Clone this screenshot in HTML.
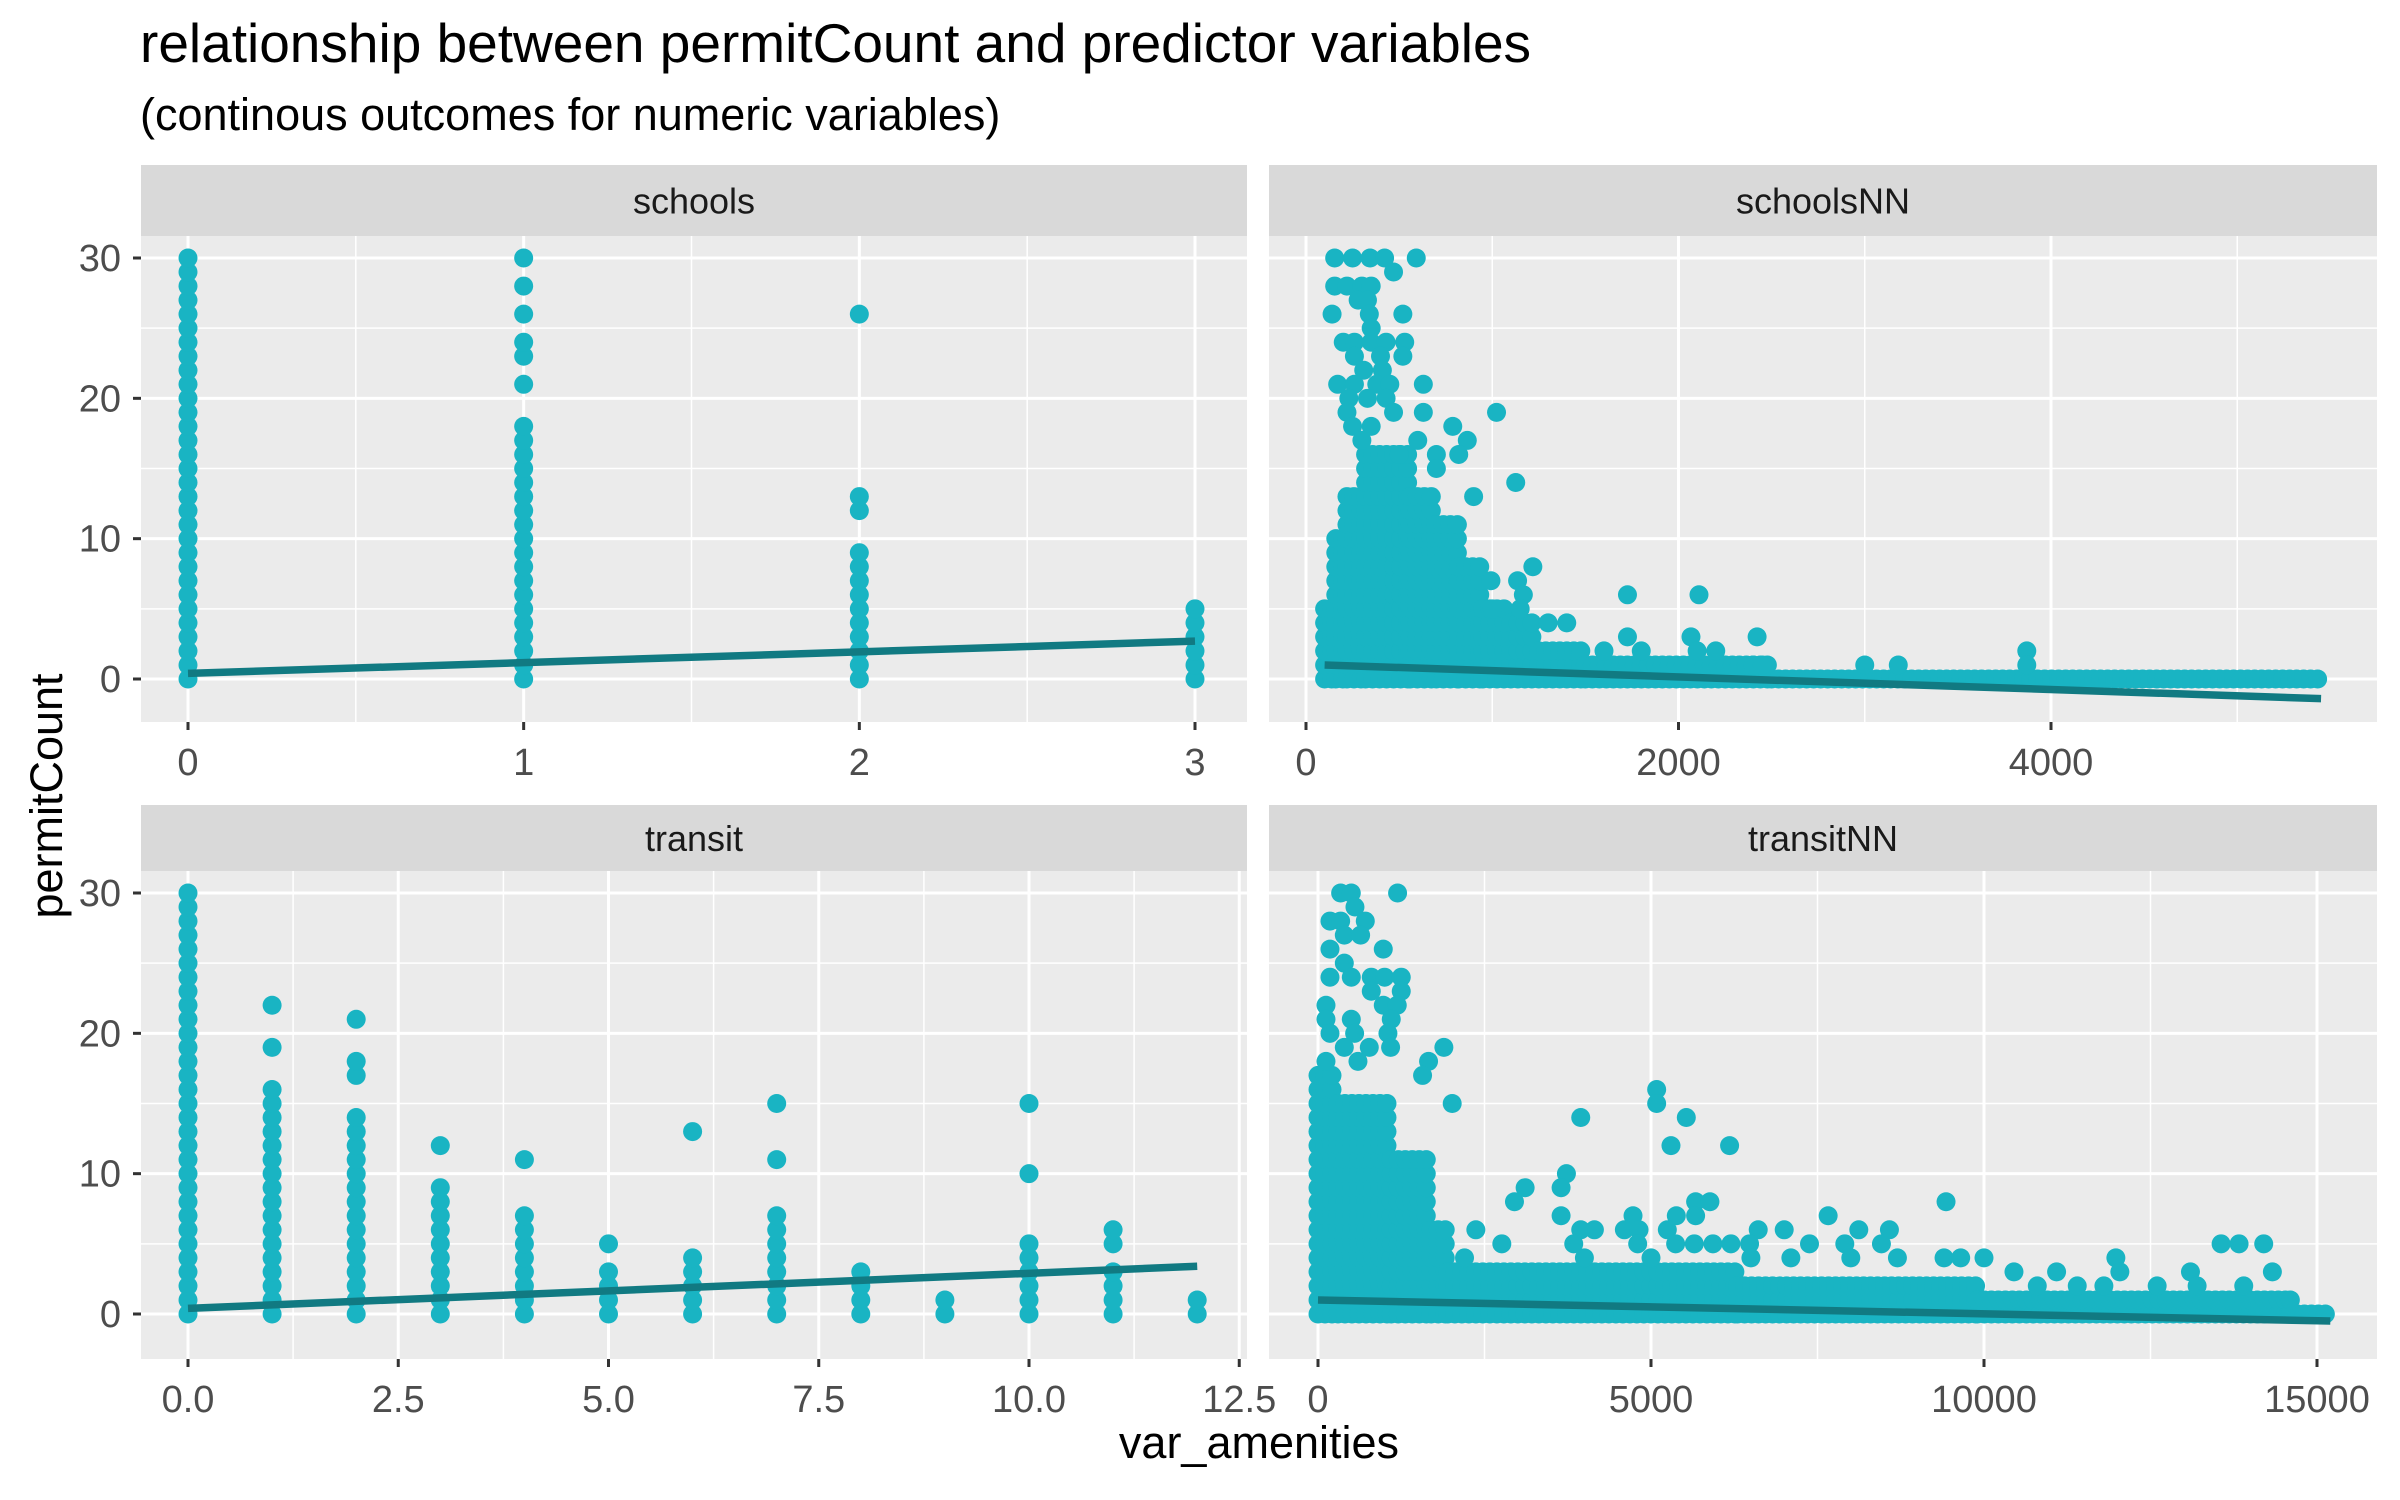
<!DOCTYPE html>
<html><head><meta charset="utf-8">
<style>
html,body{margin:0;padding:0;background:#fff;}
svg{display:block;font-family:"Liberation Sans",Arial,sans-serif;}
</style></head>
<body>
<svg id="chart" width="2400" height="1500" viewBox="0 0 2400 1500" xmlns="http://www.w3.org/2000/svg">
<rect width="2400" height="1500" fill="#fff"/>
<text x="140" y="62" font-size="55" fill="#000">relationship between permitCount and predictor variables</text>
<text x="140" y="130" font-size="45" fill="#000">(continous outcomes for numeric variables)</text>
<text x="1259" y="1458" font-size="45" text-anchor="middle" fill="#000">var_amenities</text>
<text transform="translate(62,796) rotate(-90)" font-size="45" text-anchor="middle" fill="#000">permitCount</text>
<g id="panels"></g>
</svg>
<script>
// ---- data ----
const yTicks = [0, 10, 20, 30];
const schoolsX = [0, 1, 2, 3];
const schoolsMaxStack = [30, 18, 9, 5];
const schoolsExtra = [[1,21],[1,23],[1,24],[1,26],[1,28],[1,30],[2,12],[2,13],[2,26]];
const schoolsTrend = [[0,0.4],[3,2.7]];
const transitX = [0,1,2,3,4,5,6,7,8,9,10,11,12];
const transitMaxStack = [30,16,14,9,7,3,4,7,3,1,5,3,1];
const transitExtra = [[1,19],[1,22],[2,17],[2,18],[2,21],[3,12],[4,11],[5,5],[6,13],[7,11],[7,15],[10,10],[10,15],[11,5],[11,6]];
const transitTrend = [[0,0.4],[12,3.4]];
const schoolsNNBands = [[100,160,5],[160,220,10],[220,320,13],[320,560,16],[560,700,13],[700,820,11],[820,950,8],[950,1100,5],[1100,1250,4],[1250,1500,2],[1500,2500,1],[2500,5450,0]];
const schoolsNNExtra = [[154,30],[250,30],[344,30],[422,30],[592,30],[470,29],[154,28],[220,28],[300,28],[350,28],[280,27],[330,27],[140,26],[340,26],[520,26],[350,25],[200,24],[260,24],[350,24],[430,24],[530,24],[260,23],[400,23],[520,23],[310,22],[410,22],[170,21],[260,21],[380,21],[450,21],[630,21],[230,20],[330,20],[430,20],[220,19],[470,19],[630,19],[1023,19],[250,18],[350,18],[788,18],[866,17],[300,17],[600,17],[500,16],[700,16],[820,16],[1126,14],[700,15],[900,13],[1218,8],[993,7],[1136,7],[1167,6],[1726,6],[2110,6],[1000,5],[1150,5],[1300,4],[1400,4],[2422,3],[1726,3],[2067,3],[1600,2],[1800,2],[2100,2],[2200,2],[2400,1],[2450,1],[3000,1],[3180,1],[3870,2],[3870,1]];
const schoolsNNTrend = [[100,1.0],[5450,-1.4]];
const transitNNBands = [[0,300,17],[300,1100,15],[1100,1700,11],[1700,1950,6],[1950,6300,3],[6300,9900,2],[9900,14600,1],[14600,15150,0]];
const transitNNExtra = [[340,30],[500,30],[1195,30],[555,29],[180,28],[340,28],[710,28],[395,27],[640,27],[180,26],[980,26],[395,25],[180,24],[500,24],[800,24],[1000,24],[1250,24],[800,23],[1250,23],[120,22],[980,22],[1190,22],[120,21],[500,21],[1100,21],[180,20],[550,20],[1050,20],[395,19],[770,19],[1090,19],[1890,19],[120,18],[600,18],[1660,18],[1570,17],[5085,16],[5085,15],[2015,15],[3945,14],[5530,14],[5300,12],[6180,12],[3730,10],[3110,9],[3650,9],[2950,8],[5670,8],[5885,8],[9430,8],[3650,7],[4730,7],[5380,7],[5670,7],[7660,7],[2370,6],[3945,6],[4150,6],[4600,6],[4820,6],[5245,6],[6610,6],[7000,6],[8120,6],[8580,6],[2760,5],[3840,5],[4800,5],[5370,5],[5650,5],[5930,5],[6200,5],[6480,5],[7380,5],[7910,5],[8460,5],[13560,5],[13830,5],[14200,5],[2200,4],[4000,4],[5000,4],[6500,4],[7100,4],[8000,4],[8700,4],[9400,4],[9650,4],[10000,4],[11980,4],[10450,3],[11090,3],[12040,3],[13100,3],[14330,3],[10800,2],[11400,2],[11800,2],[12600,2],[13200,2],[13900,2],[14600,1]];
const transitNNTrend = [[0,1.0],[15200,-0.5]];

// ---- layout ----
const PT = '#19b4c3', LN = '#117a82', R = 9.5;
const panels = [
 {name:'schools', x0:141, x1:1247, sy0:165, py0:236, py1:722, xA:188, xB:1195, vA:0, vB:3,
  major:[0,1,2,3], minor:[0.5,1.5,2.5], labels:['0','1','2','3'], yT:258, yB:679},
 {name:'schoolsNN', x0:1269, x1:2377, sy0:165, py0:236, py1:722, xA:1306, xB:2051, vA:0, vB:4000,
  major:[0,2000,4000], minor:[1000,3000,5000], labels:['0','2000','4000'], yT:258, yB:679},
 {name:'transit', x0:141, x1:1247, sy0:805, py0:871, py1:1359, xA:188, xB:1029, vA:0, vB:10,
  major:[0,2.5,5,7.5,10,12.5], minor:[1.25,3.75,6.25,8.75,11.25], labels:['0.0','2.5','5.0','7.5','10.0','12.5'], yT:893, yB:1314},
 {name:'transitNN', x0:1269, x1:2377, sy0:805, py0:871, py1:1359, xA:1318, xB:2317, vA:0, vB:15000,
  major:[0,5000,10000,15000], minor:[2500,7500,12500], labels:['0','5000','10000','15000'], yT:893, yB:1314}
];
const NS='http://www.w3.org/2000/svg';
const root=document.getElementById('panels');
function mk(tag,attrs,parent){const e=document.createElementNS(NS,tag);for(const k in attrs)e.setAttribute(k,attrs[k]);(parent||root).appendChild(e);return e;}

panels.forEach((p,i)=>{
  const sx=v=>p.xA+(v-p.vA)*(p.xB-p.xA)/(p.vB-p.vA);
  const sy=v=>p.yB+(v)*(p.yT-p.yB)/30;
  const g=mk('g',{});
  
  
  const bg=mk('rect',{x:p.x0,y:p.py0,width:p.x1-p.x0,height:p.py1-p.py0,fill:'#ebebeb'},g);
  
  
  const strip=mk('rect',{x:p.x0,y:p.sy0,width:p.x1-p.x0,height:p.py0-p.sy0,fill:'#d9d9d9'},g);
  
  
  const st=mk('text',{x:(p.x0+p.x1)/2,y:(p.sy0+p.py0)/2+13,'font-size':36,'text-anchor':'middle',fill:'#1a1a1a'},g);
  st.textContent=p.name;
  
  
  [5,15,25].forEach(v=>{mk('line',{x1:p.x0,x2:p.x1,y1:sy(v),y2:sy(v),stroke:'#fff','stroke-width':1.5},g);});
  p.minor.forEach(v=>{const x=sx(v); if(x>p.x0&&x<p.x1) mk('line',{x1:x,x2:x,y1:p.py0,y2:p.py1,stroke:'#fff','stroke-width':1.5},g);});
  yTicks.forEach(v=>{mk('line',{x1:p.x0,x2:p.x1,y1:sy(v),y2:sy(v),stroke:'#fff','stroke-width':3},g);});
  p.major.forEach((v,k)=>{const x=sx(v);
    if(x>p.x0&&x<p.x1) mk('line',{x1:x,x2:x,y1:p.py0,y2:p.py1,stroke:'#fff','stroke-width':3},g);
    mk('line',{x1:x,x2:x,y1:p.py1,y2:p.py1+8,stroke:'#333','stroke-width':3},g);
    const t=mk('text',{x:x,y:p.py1+53,'font-size':38,'text-anchor':'middle',fill:'#4d4d4d'},g);
    t.textContent=p.labels[k];
    
    
  });
  if(p.x0<200){
    yTicks.forEach(v=>{
      mk('line',{x1:p.x0-8,x2:p.x0,y1:sy(v),y2:sy(v),stroke:'#333','stroke-width':3},g);
      const t=mk('text',{x:p.x0-20,y:sy(v)+13,'font-size':38,'text-anchor':'end',fill:'#4d4d4d'},g);
      t.textContent=String(v);
      
      
    });
  }
  const pg=mk('g',{fill:PT},g);
  
  
  const dot=(x,y)=>{const c=mk('circle',{cx:sx(x),cy:sy(y),r:R},pg);
    
    };
  let stackX,stackMax,extra,bands,trend;
  if(p.name==='schools'){stackX=schoolsX;stackMax=schoolsMaxStack;extra=schoolsExtra;trend=schoolsTrend;}
  if(p.name==='transit'){stackX=transitX;stackMax=transitMaxStack;extra=transitExtra;trend=transitTrend;}
  if(p.name==='schoolsNN'){bands=schoolsNNBands;extra=schoolsNNExtra;trend=schoolsNNTrend;}
  if(p.name==='transitNN'){bands=transitNNBands;extra=transitNNExtra;trend=transitNNTrend;}
  if(stackX){stackX.forEach((x,k)=>{for(let y=0;y<=stackMax[k];y++)dot(x,y);});}
  if(bands){
    const step=(p.vB-p.vA)/(p.xB-p.xA)*7;
    bands.forEach(b=>{for(let x=b[0];x<=b[1];x+=step){for(let y=0;y<=b[2];y++)dot(x,y);}});
  }
  extra.forEach(d=>dot(d[0],d[1]));
  const tl=mk('line',{x1:sx(trend[0][0]),y1:sy(trend[0][1]),x2:sx(trend[1][0]),y2:sy(trend[1][1]),stroke:LN,'stroke-width':7.5},g);
  
  
});
</script>
</body></html>
